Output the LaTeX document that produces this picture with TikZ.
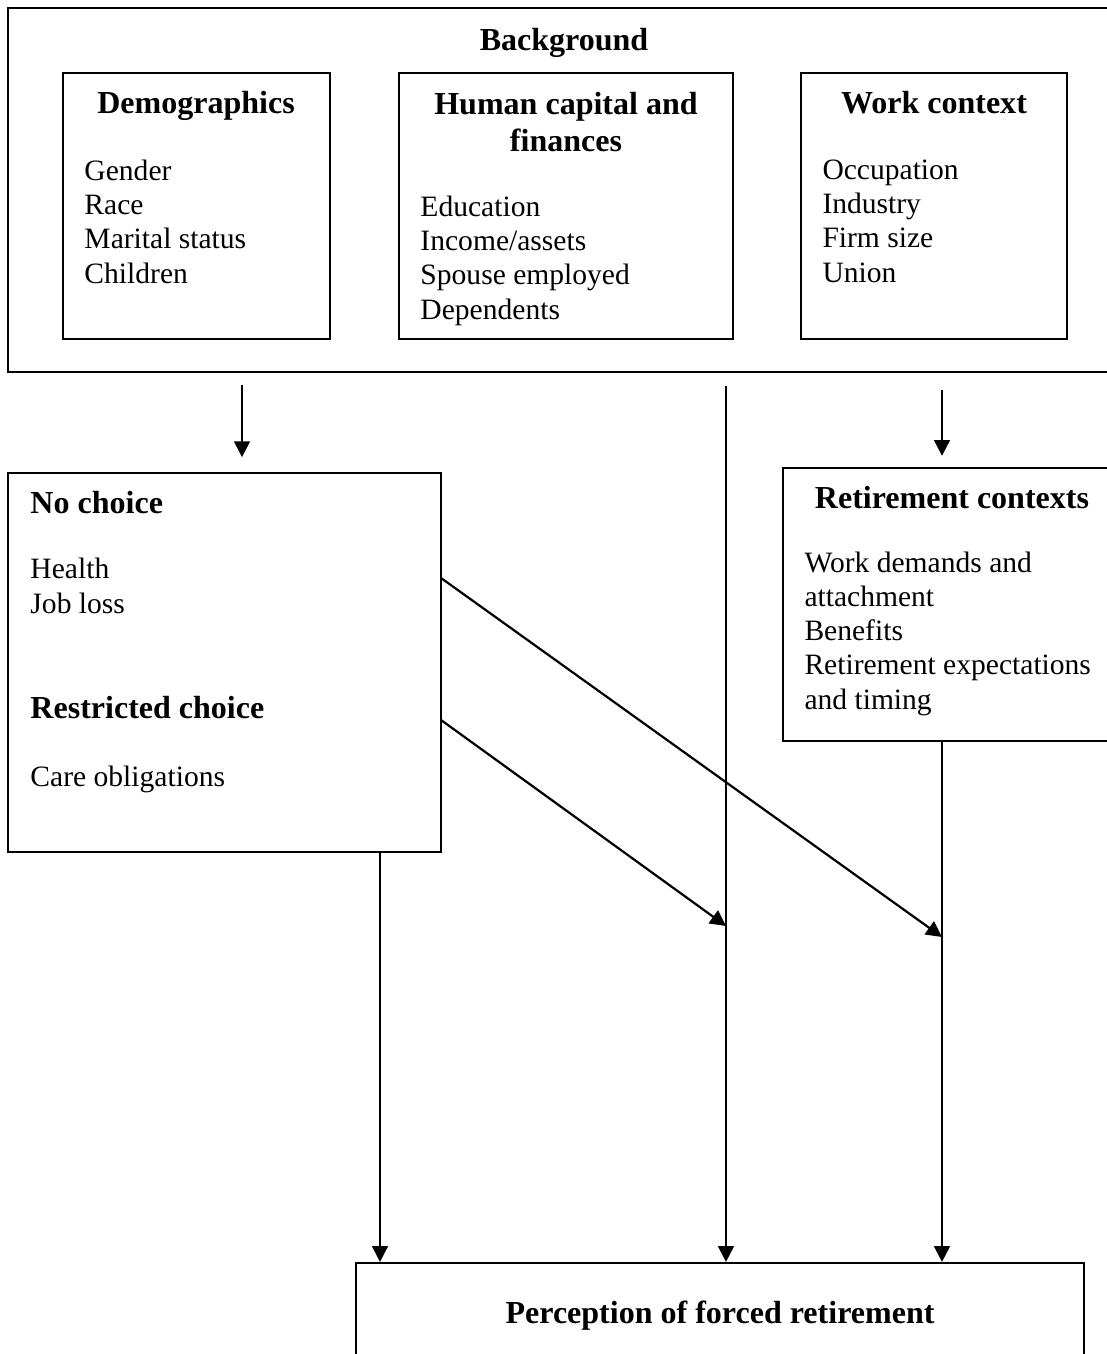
\documentclass[tikz,border=0pt]{standalone}
\usepackage{fontspec}
\setmainfont{Liberation Serif}
\usepackage{tikz}
\usetikzlibrary{arrows.meta,fit}

\begin{document}
\begin{tikzpicture}[x=0.406pt,y=-0.406pt,
    box/.style={draw,line width=0.9pt,inner sep=0pt},
    head/.style={font=\fontsize{13}{15}\selectfont\bfseries,inner sep=0pt,align=center,anchor=base},
    items/.style={font=\fontsize{12}{13.9}\selectfont,inner sep=0pt,align=left,anchor=base west},
    arr/.style={line width=0.9pt,-{Triangle[length=6.4pt,width=6.4pt]}}]
    \useasboundingbox (0,0) rectangle (1107,1354);
    \clip (0,0) rectangle (1107,1354);

    \node[box,fit={(8,8) (1120,372)}] (bg) {};
    \node[box,fit={(63,73) (330,339)}] (demo) {};
    \node[box,fit={(399,73) (733,339)}] (human) {};
    \node[box,fit={(801,73) (1067,339)}] (work) {};
    \node[box,fit={(8,473) (441,852)}] (nochoice) {};
    \node[box,fit={(783,468) (1121,741)}] (retire) {};
    \node[box,fit={(356,1263) (1084,1400)}] (outcome) {};

    % multi-line nodes sit on the baseline of their last line
    \node[head] (bgtitle) at (564,50) {Background};
    \node[head] (demotitle) at (196,113) {Demographics};
    \node[items] (demoitems) at (84,283) {Gender\\Race\\Marital status\\Children};
    \node[head] (humantitle) at (566,151) {Human capital and\\finances};
    \node[items] (humanitems) at (420,319) {Education\\Income/assets\\Spouse employed\\Dependents};
    \node[head] (worktitle) at (934,113) {Work context};
    \node[items] (workitems) at (822,282) {Occupation\\Industry\\Firm size\\Union};
    \node[head,anchor=base west] (nochoicetitle) at (30,513) {No choice};
    \node[items] (nochoiceitems) at (30,613) {Health\\Job loss};
    \node[head,anchor=base west] (restrtitle) at (30,718) {Restricted choice};
    \node[items] (restritems) at (30,786) {Care obligations};
    \node[head] (retiretitle) at (952,508) {Retirement contexts};
    \node[items] (retireitems) at (804,709) {Work demands and\\attachment\\Benefits\\Retirement expectations\\and timing};
    \node[head] (outcometitle) at (720,1323) {Perception of forced retirement};

    \coordinate (a1) at (242,385);
    \coordinate (a2) at (726,386);
    \coordinate (a3) at (942,390);
    \coordinate (a4) at (380,0);
    \coordinate (d1) at (441,578);
    \coordinate (d2) at (441,720);
    \coordinate (t1) at (942,937);
    \coordinate (t2) at (726,926);

    \draw[arr,shorten >=6pt] (a1) -- (a1 |- nochoice.north);
    \draw[arr] (a2) -- (a2 |- outcome.north);
    \draw[arr,shorten >=4.5pt] (a3) -- (a3 |- retire.north);
    \draw[arr] (retire.south -| a3) -- (a3 |- outcome.north);
    \draw[arr] (nochoice.south -| a4) -- (a4 |- outcome.north);
    \draw[arr] (d1) -- (t1);
    \draw[arr] (d2) -- (t2);
\end{tikzpicture}
\end{document}
